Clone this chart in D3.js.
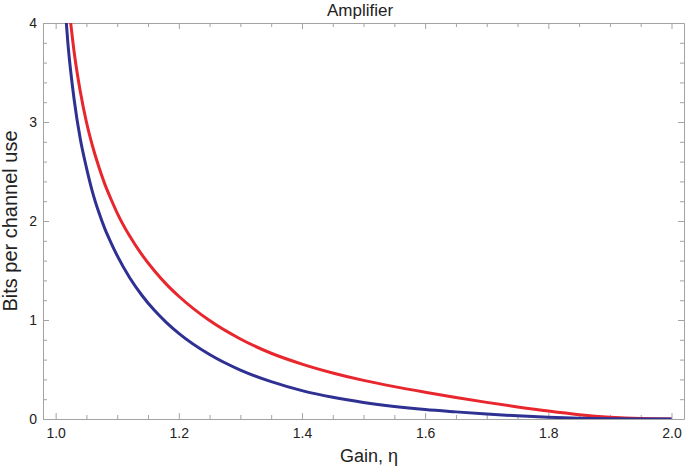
<!DOCTYPE html>
<html>
<head>
<meta charset="utf-8">
<script src="https://cdn.jsdelivr.net/npm/d3@7"></script>
<style>
  body { margin: 0; background: #fff; }
  svg { display: block; }
  .frame line, .frame path { stroke: #a3a3a3; }
  .tick text { font-family: "Liberation Sans", Arial, sans-serif; font-size: 14px; fill: #222; }
</style>
</head>
<body>
<div id="chart"></div>
<script>
// data (smoothed by hand)
var xTicks = [1.0, 1.2, 1.4, 1.6, 1.8, 2.0];
var yTicks = [0, 1, 2, 3, 4];

var blueGain = [1.015, 1.02, 1.03, 1.04, 1.05, 1.06, 1.07, 1.08, 1.09, 1.10, 1.12, 1.14, 1.16, 1.18, 1.20,
                1.25, 1.30, 1.35, 1.40, 1.45, 1.50, 1.55, 1.60, 1.65, 1.70, 1.75, 1.80, 1.85, 1.90, 1.95, 2.00];
var blueBits = [4.19, 3.79, 3.23, 2.83, 2.54, 2.29, 2.09, 1.92, 1.78, 1.65, 1.43, 1.25, 1.10, 0.974, 0.865,
                0.651, 0.494, 0.377, 0.287, 0.219, 0.167, 0.127, 0.096, 0.072, 0.050, 0.032, 0.018, 0.008, 0.003, 0.0005, 0];

var redGain = [1.022, 1.03, 1.04, 1.05, 1.06, 1.07, 1.08, 1.09, 1.10, 1.12, 1.14, 1.16, 1.18, 1.20,
               1.25, 1.30, 1.35, 1.40, 1.45, 1.50, 1.55, 1.60, 1.65, 1.70, 1.75, 1.80, 1.85, 1.90, 1.95, 2.00];
var redBits = [4.14, 3.71, 3.31, 3.00, 2.755, 2.55, 2.37, 2.22, 2.08, 1.85, 1.66, 1.50, 1.36, 1.24,
               0.994, 0.808, 0.664, 0.555, 0.465, 0.390, 0.327, 0.271, 0.218, 0.168, 0.122, 0.080, 0.044, 0.018, 0.004, 0];

var chart_width = 685, chart_height = 473;
var plot_left = 43, plot_right = 684, plot_top = 23, plot_bottom = 419;

var svg = d3.select("#chart")
    .append("svg")
    .attr("width", chart_width)
    .attr("height", chart_height);

var x_scale = d3.scaleLinear()
    .domain([0.9795, 2.0203])
    .range([plot_left, plot_right]);

var y_scale = d3.scaleLinear()
    .domain([0, 4])
    .range([plot_bottom, plot_top]);

var xMinor = d3.range(1.0, 2.0001, 0.05).filter(function(v){ return Math.abs(v * 5 - Math.round(v * 5)) > 1e-6; });
var yMinor = d3.range(0, 4.0001, 0.2).filter(function(v){ return Math.abs(v - Math.round(v)) > 1e-6; });

function addAxis(axis, tx, ty, labels) {
    var g = svg.append("g")
        .attr("class", "frame")
        .attr("transform", "translate(" + tx + "," + ty + ")")
        .call(axis);
    if (!labels) g.selectAll("text").remove();
    return g;
}

// bottom
addAxis(d3.axisBottom(x_scale).tickValues(xTicks).tickFormat(d3.format(".1f"))
    .tickSizeInner(-6).tickSizeOuter(0).tickPadding(9), 0, plot_bottom, true);
addAxis(d3.axisBottom(x_scale).tickValues(xMinor).tickSizeInner(-4).tickSizeOuter(0), 0, plot_bottom, false)
    .select(".domain").remove();
// top
addAxis(d3.axisTop(x_scale).tickValues(xTicks).tickSizeInner(-6).tickSizeOuter(0), 0, plot_top, false);
addAxis(d3.axisTop(x_scale).tickValues(xMinor).tickSizeInner(-4).tickSizeOuter(0), 0, plot_top, false)
    .select(".domain").remove();
// left
addAxis(d3.axisLeft(y_scale).tickValues(yTicks).tickFormat(d3.format("d"))
    .tickSizeInner(-6).tickSizeOuter(0).tickPadding(6), plot_left, 0, true);
addAxis(d3.axisLeft(y_scale).tickValues(yMinor).tickSizeInner(-4).tickSizeOuter(0), plot_left, 0, false)
    .select(".domain").remove();
// right
addAxis(d3.axisRight(y_scale).tickValues(yTicks).tickSizeInner(-6).tickSizeOuter(0), plot_right, 0, false);
addAxis(d3.axisRight(y_scale).tickValues(yMinor).tickSizeInner(-4).tickSizeOuter(0), plot_right, 0, false)
    .select(".domain").remove();

// clip curves to plot box
svg.append("clipPath")
    .attr("id", "plot-clip")
    .append("rect")
    .attr("x", plot_left)
    .attr("y", plot_top)
    .attr("width", plot_right - plot_left)
    .attr("height", plot_bottom - plot_top);

var line = d3.line()
    .x(function(d){ return x_scale(d[0]); })
    .y(function(d){ return y_scale(d[1]); })
    .curve(d3.curveMonotoneX);

var series = [
    { color: "#e8262d", pts: d3.zip(redGain, redBits) },
    { color: "#2e3192", pts: d3.zip(blueGain, blueBits) }
];

svg.append("g")
    .attr("clip-path", "url(#plot-clip)")
    .selectAll("path")
    .data(series)
    .enter()
    .append("path")
    .attr("d", function(d){ return line(d.pts); })
    .attr("fill", "none")
    .attr("stroke", function(d){ return d.color; })
    .attr("stroke-width", 3);

// title and labels
svg.append("text")
    .attr("x", 360)
    .attr("y", 16)
    .attr("text-anchor", "middle")
    .style("font-family", "'Liberation Sans', Arial, sans-serif")
    .style("font-size", "17px")
    .style("fill", "#222")
    .text("Amplifier");

svg.append("text")
    .attr("x", 369)
    .attr("y", 462)
    .attr("text-anchor", "middle")
    .style("font-family", "'Liberation Sans', Arial, sans-serif")
    .style("font-size", "18px")
    .style("fill", "#222")
    .text("Gain, η");

svg.append("text")
    .attr("transform", "translate(17," + ((plot_top + plot_bottom) / 2) + ") rotate(-90)")
    .attr("text-anchor", "middle")
    .style("font-family", "'Liberation Sans', Arial, sans-serif")
    .style("font-size", "20px")
    .style("fill", "#222")
    .text("Bits per channel use");
</script>
</body>
</html>
